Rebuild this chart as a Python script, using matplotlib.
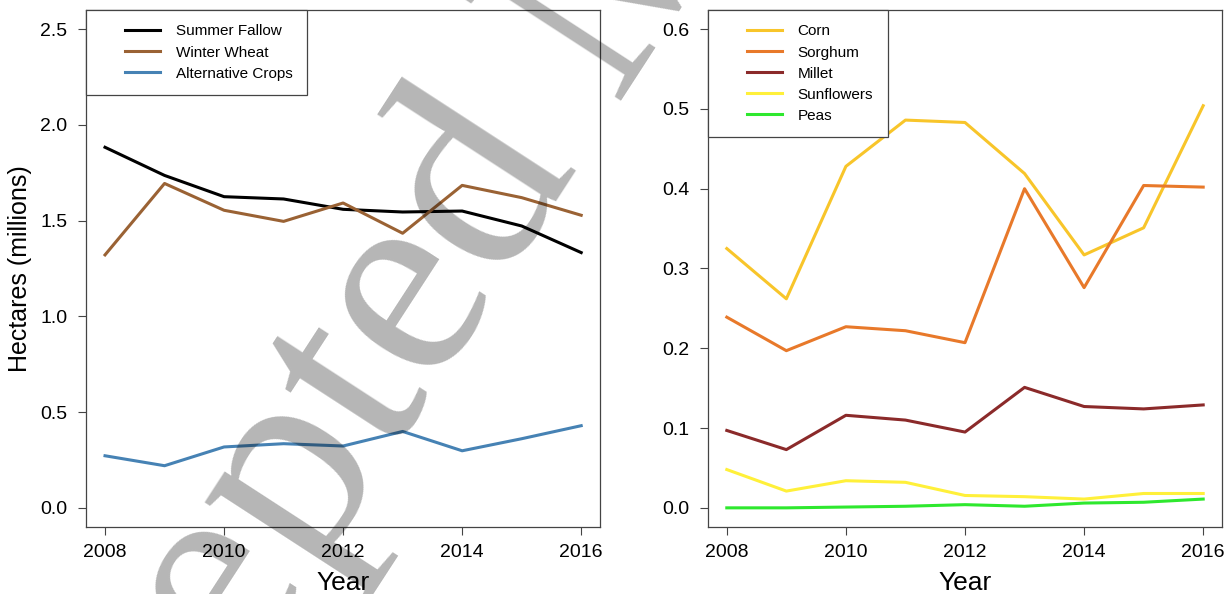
import matplotlib.pyplot as plt
from matplotlib.lines import Line2D
from matplotlib.legend_handler import HandlerLine2D

plt.rcParams['font.family'] = 'Liberation Sans'

years = [2008, 2009, 2010, 2011, 2012, 2013, 2014, 2015, 2016]

# left panel, millions of hectares
summer_fallow = [1.883, 1.736, 1.625, 1.613, 1.559, 1.545, 1.550, 1.472, 1.333]
winter_wheat = [1.321, 1.694, 1.554, 1.496, 1.592, 1.434, 1.684, 1.620, 1.528]
alt_crops = [0.272, 0.220, 0.318, 0.335, 0.323, 0.399, 0.298, 0.361, 0.429]

# right panel, the alternative crops split up
corn = [0.325, 0.262, 0.428, 0.486, 0.483, 0.419, 0.317, 0.351, 0.504]
sorghum = [0.239, 0.197, 0.227, 0.222, 0.207, 0.400, 0.276, 0.404, 0.402]
millet = [0.097, 0.073, 0.116, 0.110, 0.095, 0.151, 0.127, 0.124, 0.129]
sunflowers = [0.048, 0.021, 0.034, 0.032, 0.0155, 0.014, 0.011, 0.018, 0.018]
peas = [0.0, 0.0, 0.001, 0.002, 0.004, 0.002, 0.006, 0.007, 0.011]

left_series = [('Summer Fallow', summer_fallow, 'black'),
               ('Winter Wheat', winter_wheat, '#9a6234'),
               ('Alternative Crops', alt_crops, '#4682b4')]
right_series = [('Corn', corn, '#f8c52a'),
                ('Sorghum', sorghum, '#e8792a'),
                ('Millet', millet, '#8b2a2a'),
                ('Sunflowers', sunflowers, '#fff03a'),
                ('Peas', peas, '#2ee82e')]

box_col = '#444444'


def style_axes(ax, ymax, yticks):
    for s in ax.spines.values():
        s.set_color(box_col)
        s.set_linewidth(0.9)
    ax.set_xlim(2007.68, 2016.32)
    ax.set_ylim(-0.04 * ymax, 1.04 * ymax)
    ax.set_xticks(range(2008, 2017, 2))
    ax.set_yticks(yticks)
    ax.set_yticklabels(['%.1f' % t for t in yticks])
    ax.tick_params(direction='out', length=5.8, width=0.8, color=box_col,
                   labelsize=14)
    ax.tick_params(axis='x', pad=6.5)
    ax.tick_params(axis='y', pad=7.5)
    ax.set_xlabel('Year', fontsize=19, labelpad=7)


def add_legend(ax):
    leg = ax.legend(loc='upper left', bbox_to_anchor=(0, 1), borderaxespad=0,
                    fontsize=11, fancybox=False, framealpha=1, borderpad=0.95,
                    handlelength=3.89, handletextpad=1.05, labelspacing=0.46,
                    handler_map={Line2D: HandlerLine2D(xpad=1.6)})
    leg.get_frame().set_edgecolor(box_col)
    leg.get_frame().set_linewidth(0.9)


fig = plt.figure(figsize=(12.3, 5.94), dpi=100)
ax1 = fig.add_axes([0.0699, 0.1128, 0.4181, 0.8704])
ax2 = fig.add_axes([0.5754, 0.1128, 0.4183, 0.8704])

for name, vals, col in left_series:
    ax1.plot(years, vals, color=col, lw=2.2, label=name)
style_axes(ax1, 2.5, [0.0, 0.5, 1.0, 1.5, 2.0, 2.5])
ax1.set_ylabel('Hectares (millions)', fontsize=18, labelpad=6)
add_legend(ax1)

for name, vals, col in right_series:
    ax2.plot(years, vals, color=col, lw=2.2, label=name)
style_axes(ax2, 0.6, [0.0, 0.1, 0.2, 0.3, 0.4, 0.5, 0.6])
add_legend(ax2)

# journal watermark across both panels
fig.text(-0.0058, -0.7988, 'Accepted Manuscript', rotation=57,
         rotation_mode='anchor', ha='left', va='baseline', fontsize=205,
         family='Liberation Serif', color='black', alpha=0.29)

fig.savefig('out.png', dpi=100)
